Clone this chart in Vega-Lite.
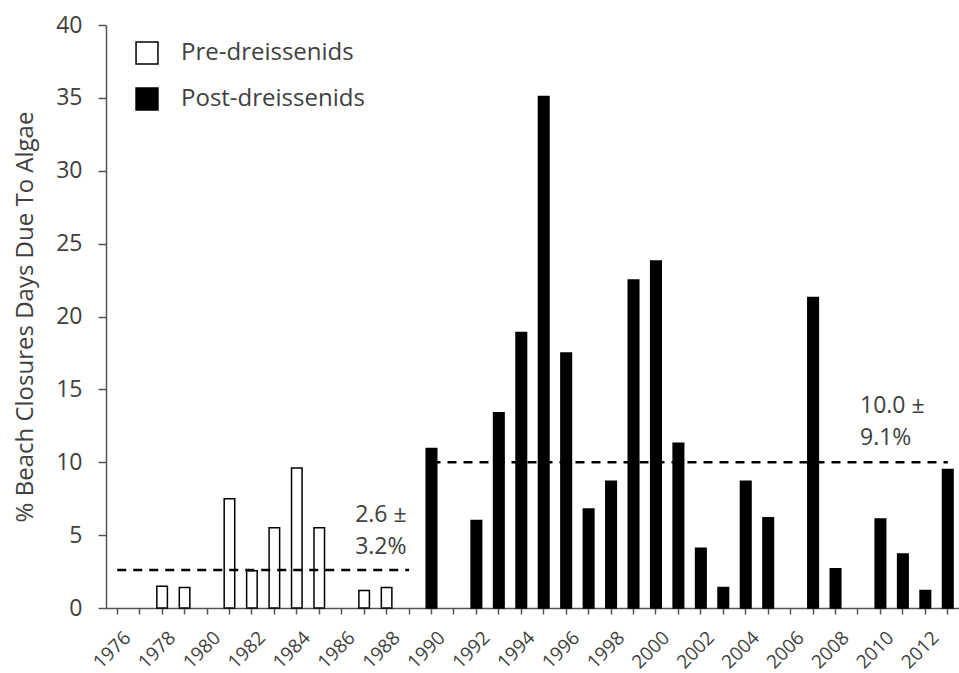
{
  "$schema": "https://vega.github.io/schema/vega-lite/v6.json",
  "autosize": {"type": "none"},
  "padding": {"left": 106, "top": 25, "right": 0, "bottom": 65},
  "width": 853,
  "height": 583,
  "background": "white",
  "config": {
    "font": "Open Sans",
    "view": {"stroke": null},
    "axis": {"grid": false, "domainColor": "#555555", "domainWidth": 1.5, "tickColor": "#555555", "tickWidth": 1.5, "labelColor": "#404040", "titleColor": "#404040", "labelFont": "Open Sans", "titleFont": "Open Sans"}
  },
  "datasets": {
    "bars": [
      {"year": 1978, "value": 1.5, "period": "Pre-dreissenids"},
      {"year": 1979, "value": 1.4, "period": "Pre-dreissenids"},
      {"year": 1981, "value": 7.5, "period": "Pre-dreissenids"},
      {"year": 1982, "value": 2.55, "period": "Pre-dreissenids"},
      {"year": 1983, "value": 5.5, "period": "Pre-dreissenids"},
      {"year": 1984, "value": 9.6, "period": "Pre-dreissenids"},
      {"year": 1985, "value": 5.5, "period": "Pre-dreissenids"},
      {"year": 1987, "value": 1.2, "period": "Pre-dreissenids"},
      {"year": 1988, "value": 1.4, "period": "Pre-dreissenids"},
      {"year": 1990, "value": 10.95, "period": "Post-dreissenids"},
      {"year": 1992, "value": 6.0, "period": "Post-dreissenids"},
      {"year": 1993, "value": 13.4, "period": "Post-dreissenids"},
      {"year": 1994, "value": 18.9, "period": "Post-dreissenids"},
      {"year": 1995, "value": 35.1, "period": "Post-dreissenids"},
      {"year": 1996, "value": 17.5, "period": "Post-dreissenids"},
      {"year": 1997, "value": 6.8, "period": "Post-dreissenids"},
      {"year": 1998, "value": 8.7, "period": "Post-dreissenids"},
      {"year": 1999, "value": 22.5, "period": "Post-dreissenids"},
      {"year": 2000, "value": 23.8, "period": "Post-dreissenids"},
      {"year": 2001, "value": 11.3, "period": "Post-dreissenids"},
      {"year": 2002, "value": 4.1, "period": "Post-dreissenids"},
      {"year": 2003, "value": 1.4, "period": "Post-dreissenids"},
      {"year": 2004, "value": 8.7, "period": "Post-dreissenids"},
      {"year": 2005, "value": 6.2, "period": "Post-dreissenids"},
      {"year": 2007, "value": 21.3, "period": "Post-dreissenids"},
      {"year": 2008, "value": 2.7, "period": "Post-dreissenids"},
      {"year": 2010, "value": 6.1, "period": "Post-dreissenids"},
      {"year": 2011, "value": 3.7, "period": "Post-dreissenids"},
      {"year": 2012, "value": 1.2, "period": "Post-dreissenids"},
      {"year": 2013, "value": 9.5, "period": "Post-dreissenids"}
    ],
    "means": [
      {"period": "Pre-dreissenids", "year": 1976, "mean": 2.6},
      {"period": "Pre-dreissenids", "year": 1989, "mean": 2.6},
      {"period": "Post-dreissenids", "year": 1990, "mean": 10.0},
      {"period": "Post-dreissenids", "year": 2013, "mean": 10.0}
    ],
    "notePre": [
      {"year": 1987, "mean": 2.6, "label": "2.6 ±\n3.2%"}
    ],
    "notePost": [
      {"year": 2009, "mean": 10.0, "label": "10.0 ±\n9.1%"}
    ]
  },
  "encoding": {
    "x": {
      "field": "year",
      "type": "ordinal",
      "scale": {
        "domain": [1976,1977,1978,1979,1980,1981,1982,1983,1984,1985,1986,1987,1988,1989,1990,1991,1992,1993,1994,1995,1996,1997,1998,1999,2000,2001,2002,2003,2004,2005,2006,2007,2008,2009,2010,2011,2012,2013],
        "paddingInner": 0.53,
        "paddingOuter": 0.265
      },
      "axis": {
        "title": null,
        "labelAngle": -45,
        "labelFontSize": 19,
        "labelOverlap": false,
        "labelExpr": "datum.value % 2 == 0 ? datum.label : ''",
        "tickSize": 6,
        "labelPadding": 14,
        "labelOffset": 4
      }
    }
  },
  "layer": [
    {
      "data": {"name": "bars"},
      "mark": {"type": "bar", "stroke": "black", "strokeWidth": 1.5},
      "encoding": {
        "y": {
          "field": "value",
          "type": "quantitative",
          "scale": {"domain": [0, 40], "nice": false},
          "axis": {
            "title": "% Beach Closures Days Due To Algae",
            "titleFontSize": 24,
            "titleFontWeight": "normal",
            "titlePadding": 18,
            "values": [0, 5, 10, 15, 20, 25, 30, 35, 40],
            "labelFontSize": 23,
            "tickSize": 8,
            "labelPadding": 16
          }
        },
        "fill": {
          "field": "period",
          "type": "nominal",
          "scale": {"domain": ["Pre-dreissenids", "Post-dreissenids"], "range": ["white", "black"]},
          "legend": {
            "title": null,
            "orient": "none",
            "legendX": 29,
            "legendY": 16,
            "padding": 0,
            "symbolType": "square",
            "symbolSize": 480,
            "symbolStrokeColor": "black",
            "symbolStrokeWidth": 1.5,
            "labelFontSize": 24,
            "labelColor": "#404040",
            "labelOffset": 22,
            "labelLimit": 0,
            "rowPadding": 18
          }
        }
      }
    },
    {
      "data": {"name": "means"},
      "mark": {"type": "line", "color": "black", "strokeWidth": 2.5, "strokeDash": [9, 7]},
      "encoding": {
        "y": {"field": "mean", "type": "quantitative"},
        "detail": {"field": "period"}
      }
    },
    {
      "data": {"name": "notePre"},
      "mark": {"type": "text", "align": "left", "baseline": "alphabetic", "lineBreak": "\n", "lineHeight": 32, "fontSize": 23, "color": "#404040", "dx": -9, "dy": -48},
      "encoding": {
        "y": {"field": "mean", "type": "quantitative"},
        "text": {"field": "label"}
      }
    },
    {
      "data": {"name": "notePost"},
      "mark": {"type": "text", "align": "left", "baseline": "alphabetic", "lineBreak": "\n", "lineHeight": 32, "fontSize": 23, "color": "#404040", "dx": 2, "dy": -49},
      "encoding": {
        "y": {"field": "mean", "type": "quantitative"},
        "text": {"field": "label"}
      }
    }
  ]
}
